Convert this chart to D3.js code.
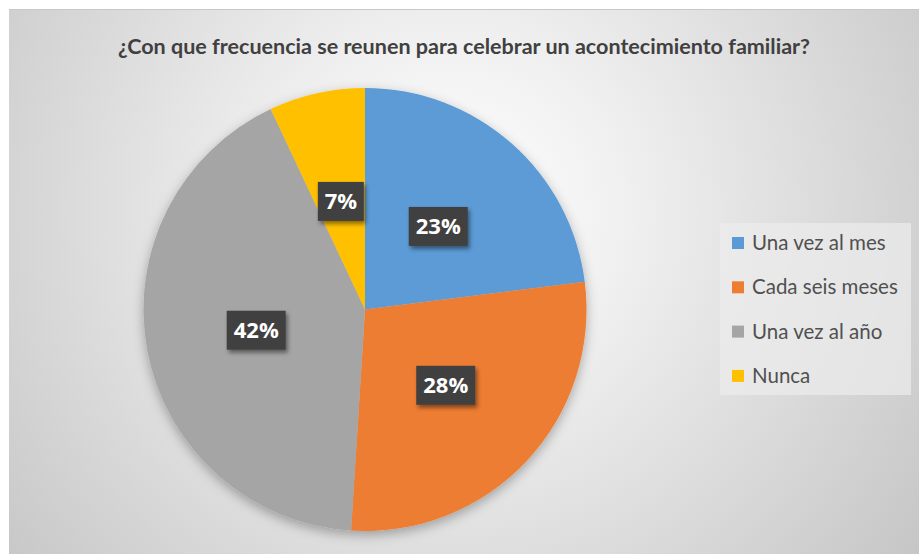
<!DOCTYPE html>
<html><head><meta charset="utf-8">
<script src="https://cdn.jsdelivr.net/npm/d3@7"></script>
<style>body{margin:0;background:#fff;}svg{display:block;}</style>
</head><body>
<script>
const categories = ["Una vez al mes", "Cada seis meses", "Una vez al año", "Nunca"];
const values = [23, 28, 42, 7];
const colors = ["#5B9BD5", "#ED7D31", "#A5A5A5", "#FFC000"];
const title = "¿Con que frecuencia se reunen para celebrar un acontecimiento familiar?";

const W = 919, H = 554;
const svg = d3.select("body").append("svg").attr("width", W).attr("height", H);
const defs = svg.append("defs");
const rg = defs.append("radialGradient").attr("id","bg").attr("gradientUnits","userSpaceOnUse")
  .attr("cx", 450).attr("cy", 210).attr("r", 580);
rg.append("stop").attr("offset","0%").attr("stop-color","#ffffff");
rg.append("stop").attr("offset","30%").attr("stop-color","#f0f0f0");
rg.append("stop").attr("offset","100%").attr("stop-color","#c6c6c6");
const f = defs.append("filter").attr("id","pshadow").attr("x","-20%").attr("y","-20%").attr("width","140%").attr("height","140%");
f.append("feDropShadow").attr("dx",0).attr("dy",4).attr("stdDeviation",6).attr("flood-color","#000").attr("flood-opacity",0.3);
const f2 = defs.append("filter").attr("id","lshadow").attr("x","-30%").attr("y","-30%").attr("width","160%").attr("height","160%");
f2.append("feDropShadow").attr("dx",2).attr("dy",3).attr("stdDeviation",2).attr("flood-color","#000").attr("flood-opacity",0.45);

svg.append("rect").attr("x",9).attr("y",9).attr("width",W-9).attr("height",H-9).attr("fill","url(#bg)");
svg.append("line").attr("x1",9).attr("x2",W).attr("y1",9.5).attr("y2",9.5).attr("stroke","#c8c8c8");

svg.append("text").attr("x", 464).attr("y", 54).attr("text-anchor","middle")
  .attr("font-family","Lato, 'Open Sans', sans-serif").attr("font-weight","bold").attr("font-size",20)
  .attr("textLength", 692).attr("lengthAdjust","spacingAndGlyphs")
  .attr("fill","#404040").text(title);

const cx = 365, cy = 309.5, R = 221.5;
const pie = d3.pie().sort(null).value(d => d);
const arcs = pie(values);
const arc = d3.arc().innerRadius(0).outerRadius(R);
const g = svg.append("g").attr("transform", `translate(${cx},${cy})`);
g.append("g").attr("filter","url(#pshadow)").selectAll("path").data(arcs).join("path")
  .attr("d", arc).attr("fill", (d,i) => colors[i]);

const lab = d3.arc().innerRadius(R*0.5).outerRadius(R*0.5);
const lg = g.selectAll("g.lab").data(arcs).join("g").attr("class","lab")
  .attr("transform", d => { const c = lab.centroid(d); return `translate(${c[0]},${c[1]})`; });
lg.append("rect").attr("x", (d,i)=> values[i] < 10 ? -23 : -29.5).attr("y",-19.5)
  .attr("width",(d,i)=> values[i] < 10 ? 46 : 59).attr("height",39)
  .attr("fill","#404040").attr("filter","url(#lshadow)");
lg.append("text").attr("text-anchor","middle").attr("dy","0.36em")
  .attr("font-family","'Open Sans', sans-serif").attr("font-weight","bold").attr("font-size",22)
  .attr("fill","#fff").text((d,i) => values[i] + "%");

const leg = svg.append("g");
leg.append("rect").attr("x",720).attr("y",223).attr("width",191).attr("height",172).attr("fill","#ececec").attr("fill-opacity",0.7);
const li = leg.selectAll("g.li").data(categories).join("g").attr("class","li")
  .attr("transform",(d,i)=>`translate(732, ${243 + i*44.3})`);
li.append("rect").attr("x",0).attr("y",-6).attr("width",12).attr("height",12).attr("fill",(d,i)=>colors[i]);
li.append("text").attr("x",20).attr("dy","0.35em")
  .attr("font-family","Lato, 'Open Sans', sans-serif").attr("font-size",20.5).attr("fill","#505050").text(d=>d);
</script>
</body></html>
